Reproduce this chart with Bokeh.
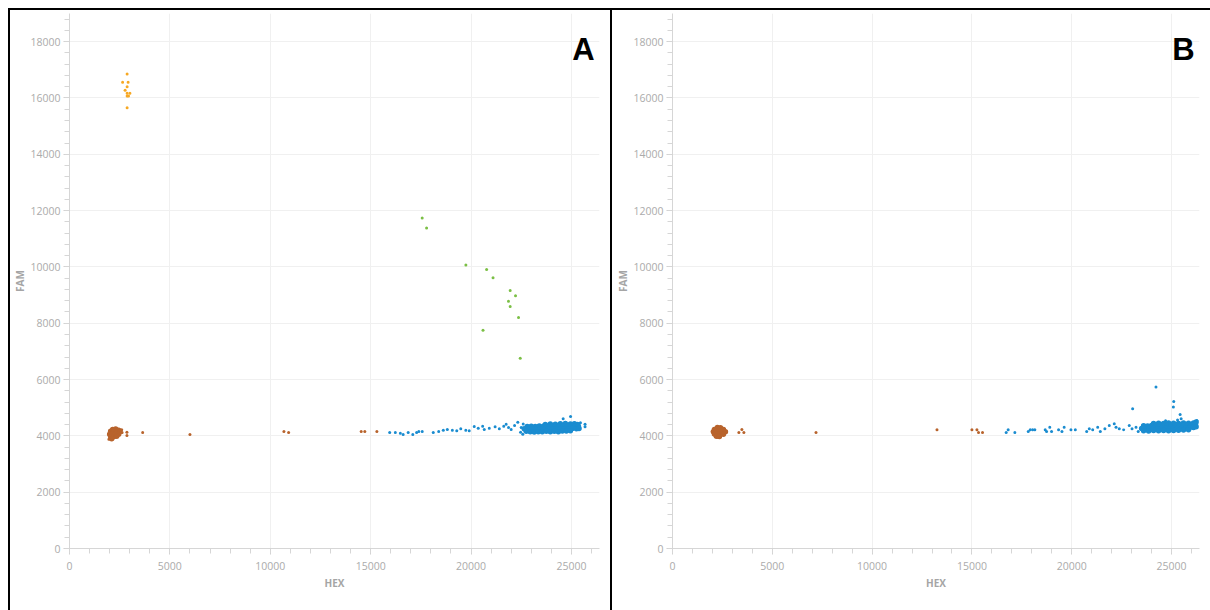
from bokeh.plotting import figure
from bokeh.layouts import row
from bokeh.models import SingleIntervalTicker, Range1d, Label
from bokeh.embed import file_html
from bokeh.resources import INLINE

# ---------------- Panel A data ----------------
A_orange_x = [2870, 2645, 2920, 2870, 2770, 2870, 3010, 2870, 2940, 2870]
A_orange_y = [16855, 16560, 16560, 16400, 16270, 16170, 16170, 16070, 16070, 15655]

A_green_x = [17568, 17787, 19744, 20777, 21097, 21951, 22217, 21866, 21951, 22367, 20597, 22452]
A_green_y = [11741, 11385, 10068, 9912, 9615, 9164, 8974, 8785, 8595, 8202, 7752, 6755]

# dense brown cluster (negatives) and scattered brown points
A_brown_core_x = [2150, 2300, 2450,
                  2050, 2200, 2350, 2500,
                  2000, 2150, 2300, 2450,
                  2050, 2200, 2350,
                  2100]
A_brown_core_y = [4230, 4240, 4200,
                  4160, 4170, 4150, 4140,
                  4060, 4070, 4080, 4060,
                  3980, 3970, 3990,
                  3900]
A_brown_x = [2600, 2620, 1960, 2860, 2860, 3645, 6000, 10680, 10915, 14530, 14710, 15310]
A_brown_y = [4220, 4120, 3880, 4130, 4010, 4120, 4050, 4156, 4120, 4156, 4156, 4156]

# dense blue cluster and scattered blue points
A_blue_core_x = [23700, 23950, 24200, 24450, 24700, 24950, 25150, 25300,
                 22800, 23000, 23200, 23400, 23600, 23800, 24000, 24200, 24400,
                 24600, 24800, 25000, 25200, 25350,
                 22650, 22850, 23050, 23250, 23450, 23650, 23850, 24050, 24250,
                 24450, 24650, 24850, 25050, 25250, 25380,
                 22750, 22950, 23150, 23350, 23550, 23750, 23950, 24150, 24350,
                 24550, 24750, 24950]
A_blue_core_y = [4400, 4420, 4410, 4430, 4440, 4420, 4430, 4400,
                 4330, 4340, 4330, 4350, 4340, 4350, 4340, 4350, 4360,
                 4340, 4360, 4350, 4360, 4340,
                 4250, 4240, 4250, 4230, 4240, 4230, 4250, 4240, 4250,
                 4240, 4250, 4240, 4260, 4250, 4260,
                 4160, 4150, 4140, 4150, 4150, 4160, 4150, 4160, 4150,
                 4170, 4170, 4180]
A_blue_x = [15950, 16230, 16480, 16620, 16870, 17100, 17290, 17400, 17570, 18120,
            18390, 18620, 18820, 19070, 19290, 19490, 19740, 19910, 20160, 20360,
            20580, 20660, 20910, 21200, 21410, 21630, 21750, 21870, 22000, 22170,
            22330, 22470, 22580, 24590, 24960, 25680, 25680, 22600, 22500, 25450]
A_blue_y = [4120, 4120, 4095, 4050, 4120, 4050, 4120, 4156, 4156, 4120,
            4156, 4200, 4225, 4200, 4178, 4250, 4200, 4178, 4334, 4274,
            4345, 4227, 4274, 4320, 4250, 4345, 4416, 4298, 4227, 4370,
            4487, 4130, 4060, 4605, 4690, 4416, 4320, 4420, 4300, 4470]

# ---------------- Panel B data ----------------
B_brown_core_x = [2250, 2400,
                  2100, 2250, 2400, 2550,
                  2050, 2200, 2350, 2500, 2650,
                  2100, 2250, 2400, 2550,
                  2200, 2350]
B_brown_core_y = [4300, 4290,
                  4230, 4240, 4250, 4230,
                  4150, 4160, 4150, 4160, 4150,
                  4070, 4060, 4070, 4060,
                  3990, 3980]
B_brown_x = [1990, 2710, 2300, 3325, 3475, 3575, 7190, 13250, 15000, 15250, 15330, 15530]
B_brown_y = [4160, 4150, 3940, 4120, 4227, 4120, 4120, 4213, 4213, 4213, 4120, 4120]

B_blue_core_x = [24100, 24350, 24600, 24850, 25100, 25350, 25600, 25850, 26100, 26230,
                 23600, 23800, 24000, 24200, 24400, 24600, 24800, 25000, 25200, 25400,
                 25600, 25800, 26000, 26200,
                 23500, 23700, 23900, 24100, 24300, 24500, 24700, 24900, 25100, 25300,
                 25500, 25700, 25900, 26100, 26230,
                 23600, 23850, 24100, 24350, 24600, 24850, 25100, 25350, 25600, 25850]
B_blue_core_y = [4440, 4450, 4440, 4460, 4450, 4440, 4460, 4450, 4460, 4490,
                 4360, 4350, 4370, 4360, 4370, 4360, 4370, 4360, 4370, 4360,
                 4370, 4380, 4390, 4400,
                 4260, 4250, 4270, 4260, 4250, 4270, 4260, 4250, 4270, 4260,
                 4270, 4280, 4290, 4300, 4320,
                 4180, 4170, 4190, 4180, 4190, 4180, 4190, 4200, 4210, 4220]
B_blue_x = [16715, 16815, 17150, 17820, 17920, 18040, 18150, 18670, 18740, 18900,
            18990, 19340, 19510, 19620, 19960, 20180, 20750, 20880, 21050, 21300,
            21430, 21660, 21880, 22130, 22220, 22380, 22600, 22880, 23020, 23220,
            23330, 23050, 24220, 25110, 25090, 25430, 25480, 25300, 24700, 26270]
B_blue_y = [4120, 4213, 4120, 4156, 4213, 4213, 4213, 4213, 4156, 4310,
            4156, 4213, 4156, 4310, 4213, 4213, 4156, 4250, 4213, 4310,
            4156, 4250, 4370, 4427, 4310, 4250, 4213, 4370, 4250, 4310,
            4156, 4960, 5734, 5224, 5021, 4760, 4605, 4560, 4540, 4550]

x_ticks_interval = 5000
y_ticks_interval = 2000
x_label = "HEX"
y_label = "FAM"
x_max = 26400
y_max = 19000

ORANGE = "#F7A823"
GREEN = "#7BBF45"
BROWN = "#B8632C"
BLUE = "#1A8CD0"

TICK_FONT = "Open Sans"


def make_panel(letter, sparse, core, width, styles, left, right):
    p = figure(width=width, height=602, output_backend="svg", toolbar_location=None,
               x_range=Range1d(0, x_max), y_range=Range1d(0, y_max),
               min_border_left=left, min_border_right=right,
               min_border_top=3, min_border_bottom=64,
               background_fill_color="white", border_fill_color="white",
               styles=styles)
    p.outline_line_color = None
    p.xaxis.ticker = SingleIntervalTicker(interval=x_ticks_interval, num_minor_ticks=5)
    p.yaxis.ticker = SingleIntervalTicker(interval=y_ticks_interval, num_minor_ticks=5)
    p.xgrid.ticker = p.xaxis.ticker
    p.ygrid.ticker = p.yaxis.ticker
    for ax in (p.xaxis, p.yaxis):
        ax.axis_line_color = "#d6d6d6"
        ax.major_tick_line_color = "#cfcfcf"
        ax.minor_tick_line_color = "#d6d6d6"
        ax.major_tick_in = 0
        ax.minor_tick_in = 0
        ax.major_tick_out = 6
        ax.minor_tick_out = 5
        ax.major_label_text_color = "#ababab"
        ax.major_label_text_font = TICK_FONT
        ax.major_label_text_font_size = "10.5px"
        ax.axis_label_text_color = "#a5a5a5"
        ax.axis_label_text_font = TICK_FONT
        ax.axis_label_text_font_style = "bold"
        ax.axis_label_text_font_size = "10px"
    p.xaxis.axis_label = x_label
    p.yaxis.axis_label = y_label
    p.xaxis.major_label_standoff = 7
    p.yaxis.major_label_standoff = 3
    p.xaxis.axis_label_standoff = 3
    p.yaxis.axis_label_standoff = 0
    p.grid.grid_line_color = "#f0f0f0"
    for xs, ys, c in core:
        p.scatter(xs, ys, size=5.5, color=c, line_width=0)
    for xs, ys, c in sparse:
        p.scatter(xs, ys, size=3, color=c, line_width=0)
    p.add_layout(Label(x=25600, y=17720, text=letter, text_font="Liberation Sans",
                       text_font_style="bold", text_font_size="31px", text_color="black",
                       text_align="center", text_baseline="middle"))
    return p


pA = make_panel("A",
                [(A_orange_x, A_orange_y, ORANGE), (A_green_x, A_green_y, GREEN),
                 (A_brown_x, A_brown_y, BROWN), (A_blue_x, A_blue_y, BLUE)],
                [(A_brown_core_x, A_brown_core_y, BROWN), (A_blue_core_x, A_blue_core_y, BLUE)],
                604,
                {"border-left": "2px solid black", "border-top": "2px solid black",
                 "border-right": "2px solid black", "box-sizing": "border-box"},
                58, 15)
pB = make_panel("B",
                [(B_brown_x, B_brown_y, BROWN), (B_blue_x, B_blue_y, BLUE)],
                [(B_brown_core_x, B_brown_core_y, BROWN), (B_blue_core_x, B_blue_core_y, BLUE)],
                598,
                {"border-top": "2px solid black", "box-sizing": "border-box"},
                60, 11)

layout = row(pA, pB, spacing=0, styles={"margin-left": "8px", "margin-top": "8px"})
open("out.html", "w").write(file_html(layout, INLINE))
